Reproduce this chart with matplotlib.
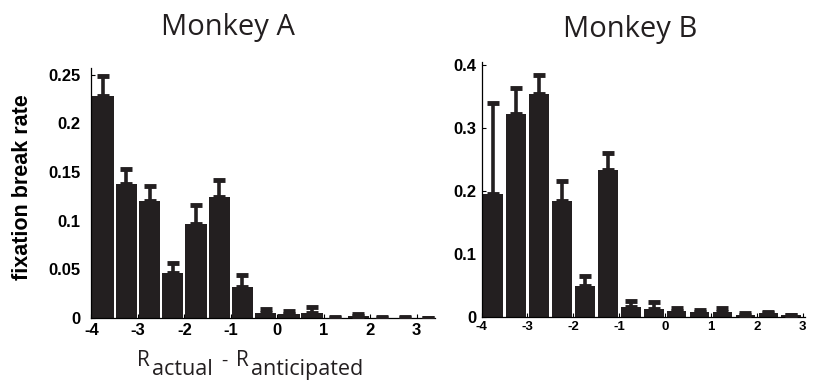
"""Fixation break rate vs. reward difference for Monkey A and Monkey B."""

import matplotlib
matplotlib.use("Agg")
import matplotlib.pyplot as plt  # noqa: E402

# --- data ---
centers_a = [-3.75, -3.25, -2.75, -2.25, -1.75, -1.25, -0.75, -0.25,
             0.25, 0.75, 1.25, 1.75, 2.25, 2.75, 3.25]
rate_a = [0.228, 0.138, 0.120, 0.046, 0.097, 0.124, 0.032, 0.005,
          0.004, 0.005, 0.0, 0.0025, 0.0, 0.0, 0.0]
err_a = [0.021, 0.015, 0.016, 0.011, 0.019, 0.018, 0.012, 0.004,
         0.003, 0.006, 0.001, 0.0015, 0.001, 0.001, 0.0]

centers_b = [-3.75, -3.25, -2.75, -2.25, -1.75, -1.25, -0.75, -0.25,
             0.25, 0.75, 1.25, 1.75, 2.25, 2.75]
rate_b = [0.195, 0.322, 0.353, 0.183, 0.049, 0.233, 0.015, 0.012,
          0.0095, 0.007, 0.008, 0.003, 0.005, 0.002]
err_b = [0.144, 0.041, 0.031, 0.032, 0.016, 0.027, 0.010, 0.012,
         0.0035, 0.0035, 0.005, 0.002, 0.0025, 0.001]

xticks = [-4, -3, -2, -1, 0, 1, 2, 3]
yticks_a = [0, 0.05, 0.1, 0.15, 0.2, 0.25]
yticklabels_a = ["0", "0.05", "0.1", "0.15", "0.2", "0.25"]
yticks_b = [0, 0.1, 0.2, 0.3, 0.4]
yticklabels_b = ["0", "0.1", "0.2", "0.3", "0.4"]

BAR = "#231f20"
TICK_FONT = "Liberation Sans"
TEXT_FONT = "Open Sans"

plt.rcParams["axes.unicode_minus"] = False

W, H = 819, 381
fig = plt.figure(figsize=(W / 100, H / 100), dpi=100)
ax_a = fig.add_axes([0.1117, 0.165, 0.419, 0.657])
ax_b = fig.add_axes([0.588, 0.169, 0.395, 0.669])


def draw(ax, centers, rate, err, width, xmax, ymax, yticks, yticklabels, xsize):
    ax.bar(centers, rate, width=width, color=BAR, zorder=2)
    ax.errorbar(centers, rate, yerr=[[0] * len(err), err], fmt="none",
                ecolor=BAR, elinewidth=2.6, capsize=4.3, capthick=3.5, zorder=3)
    ax.set_xlim(-4, xmax)
    ax.set_ylim(0, ymax)
    ax.set_xticks(xticks)
    ax.set_yticks(yticks)
    ax.set_yticklabels(yticklabels)
    for s in ("top", "right"):
        ax.spines[s].set_visible(False)
    for s in ("left", "bottom"):
        ax.spines[s].set_linewidth(0.9)
    ax.tick_params(direction="in", length=3, width=0.8)
    for lab in ax.get_yticklabels():
        lab.set_fontfamily(TICK_FONT)
        lab.set_fontweight("bold")
        lab.set_fontsize(12)
    for lab in ax.get_xticklabels():
        lab.set_fontfamily(TICK_FONT)
        lab.set_fontweight("bold")
        lab.set_fontsize(xsize)


draw(ax_a, centers_a, rate_a, err_a, 0.46, 3.39, 0.257,
     yticks_a, yticklabels_a, 12)
draw(ax_b, centers_b, rate_b, err_b, 0.43, 3.05, 0.405,
     yticks_b, yticklabels_b, 9.5)
ax_a.tick_params(axis="y", pad=8)
ax_b.tick_params(axis="y", pad=4)


def px_text(x, y, s, **kw):
    # place text by pixel position (from top-left), baseline-aligned
    return fig.text(x / W, 1 - y / H, s, va="baseline", **kw)


# x label: R_actual - R_anticipated, with large subscripts as in the original
lab = dict(fontfamily=TEXT_FONT, color=BAR)
px_text(137, 366, "R", fontsize=15, **lab)
px_text(152, 375, "actual", fontsize=15.5, **lab)
px_text(221, 366, "-", fontsize=14, **lab)
px_text(236, 366, "R", fontsize=15, **lab)
px_text(251, 375, "anticipated", fontsize=15.5, **lab)

fig.text(23 / W, 1 - 187 / H, "fixation break rate", rotation=90,
         ha="center", va="center", fontfamily=TICK_FONT, fontweight="bold",
         fontsize=15.5)
px_text(228, 35, "Monkey A", ha="center", fontsize=21, **lab)
px_text(630, 36.7, "Monkey B", ha="center", fontsize=21, **lab)

fig.savefig("out.png", dpi=100)
